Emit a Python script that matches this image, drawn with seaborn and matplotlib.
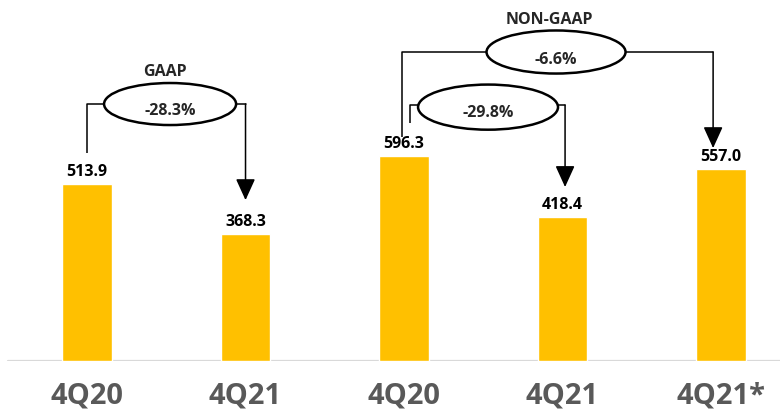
import matplotlib
matplotlib.use("Agg")
import matplotlib.pyplot as plt
from matplotlib.patches import Ellipse
import seaborn as sns
import pandas as pd

# Quarterly figures: GAAP pair, then Non-GAAP trio
categories = ["4Q20", "4Q21", "4Q20", "4Q21", "4Q21*"]
values = [513.9, 368.3, 596.3, 418.4, 557.0]
changes = ["-28.3%", "-29.8%", "-6.6%"]
group_titles = ["GAAP", "NON-GAAP"]

BAR_COLOR = "#FFC000"

sns.set_theme(style="white")
plt.rcParams["font.family"] = ["Open Sans", "DejaVu Sans"]

df = pd.DataFrame({"pos": range(len(values)), "value": values})

fig = plt.figure(figsize=(7.8, 4.12), dpi=100)
ax = fig.add_axes([0, 51 / 412, 1, 361 / 412])

sns.barplot(data=df, x="pos", y="value", color=BAR_COLOR, width=0.315,
            saturation=1, ax=ax)

ax.set_xlim(-0.549, 4.372)
ax.set_ylim(0, 1048)
for s in ax.spines.values():
    s.set_visible(False)
ax.axhline(0, xmin=0.01, xmax=1, color="#D9D9D9", lw=1.6, zorder=0)
ax.set_yticks([])
ax.set_xticks(range(len(categories)))
ax.set_xticklabels(categories, fontsize=21, fontweight="bold", color="#595959")
ax.tick_params(axis="x", length=0, pad=15)
ax.set_xlabel("")
ax.set_ylabel("")

# Value labels above each bar
for i, v in enumerate(values):
    ax.text(i, v + 11, f"{v:.1f}", ha="center", va="bottom",
            fontsize=11.5, fontweight="bold", color="black")

LW = 1.1
ANN_FS = 11.5


def bracket(x_left, y_left_bottom, y_level, ell_cx, ell_cy, ell_w, ell_h,
            x_right, y_tip, label, text_dy):
    # left riser up to the connector level
    ax.plot([x_left, x_left, ell_cx - ell_w / 2], [y_left_bottom, y_level, y_level],
            color="black", lw=LW, solid_capstyle="butt", zorder=3)
    # right run to the corner, then arrow down to the target bar
    ax.plot([ell_cx + ell_w / 2, x_right], [y_level, y_level],
            color="black", lw=LW, zorder=3)
    ax.annotate("", xy=(x_right, y_tip), xytext=(x_right, y_level),
                arrowprops=dict(arrowstyle="-|>,head_length=1.1,head_width=0.5",
                                color="black", lw=LW, shrinkA=0, shrinkB=0),
                zorder=3)
    ax.add_patch(Ellipse((ell_cx, ell_cy), ell_w, ell_h, facecolor="white",
                         edgecolor="black", lw=1.8, zorder=4))
    ax.text(ell_cx, ell_cy + text_dy, label, ha="center", va="center",
            fontsize=ANN_FS, fontweight="bold", zorder=5)


# GAAP: 4Q20 -> 4Q21
bracket(0.0, 604, 746, 0.524, 746, 0.833, 122, 1.0, 467, changes[0], -20)
ax.text(0.49, 839, group_titles[0], ha="center", va="center",
        fontsize=ANN_FS, fontweight="bold")

# NON-GAAP: 4Q20 -> 4Q21
bracket(2.04, 691, 743, 2.53, 737, 0.883, 131, 3.016, 505, changes[1], -17)

# NON-GAAP: 4Q20 -> 4Q21*
bracket(1.99, 650, 897, 2.959, 897, 0.877, 125, 3.95, 618, changes[2], -23)
ax.text(2.92, 990, group_titles[1], ha="center", va="center",
        fontsize=ANN_FS, fontweight="bold")

fig.savefig("out.png", dpi=100)
